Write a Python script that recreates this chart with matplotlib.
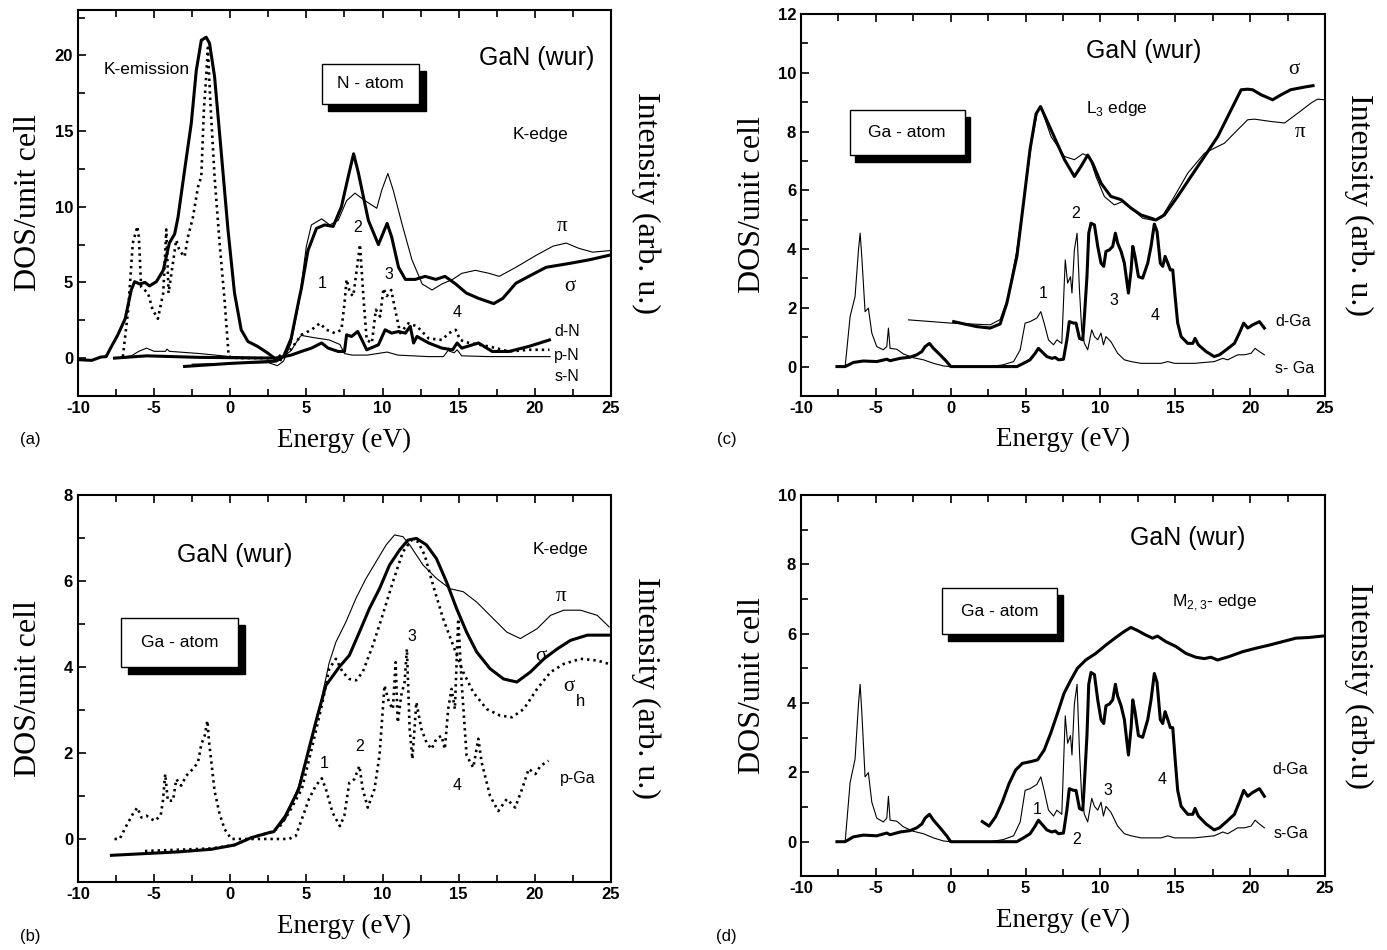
import numpy as np
import matplotlib
matplotlib.use("Agg")
import matplotlib.pyplot as plt
from matplotlib.patches import Rectangle
from matplotlib.ticker import MultipleLocator

plt.rcParams['font.family'] = ['Liberation Sans', 'DejaVu Sans']
plt.rcParams['mathtext.fontset'] = 'custom'
plt.rcParams['mathtext.rm'] = 'Liberation Sans'
plt.rcParams['axes.unicode_minus'] = False

# ---------------- panel (a): N atom, K-emission / K-edge ----------------
a_kemis = [(-10, -0.1), (-9.1, -0.15), (-8.5, 0.07), (-8.15, 0.1), (-7.8, 0.77), (-7.4, 1.5),
           (-6.9, 2.6), (-6.5, 4.5), (-6.28, 5.05), (-5.95, 4.9), (-5.6, 5.0), (-5.3, 4.77),
           (-4.85, 5.05), (-4.4, 5.8), (-4.0, 7.6), (-3.65, 8.2), (-3.43, 9.3), (-3.0, 12.4),
           (-2.56, 15.5), (-2.23, 19.0), (-1.9, 21.0), (-1.58, 21.2), (-1.36, 20.8), (-1.03, 18.6),
           (-0.6, 13.7), (-0.15, 8.5), (0.28, 4.3), (0.72, 1.87), (1.16, 1.1), (1.8, 0.77),
           (2.47, 0.33), (2.9, 0.0), (3.3, -0.1)]
a_pN = [(-7.05, 0.1), (-6.7, 3.2), (-6.4, 7.6), (-6.1, 8.7), (-6.0, 8.0), (-5.85, 4.7), (-5.4, 4.3),
        (-5.1, 3.2), (-4.75, 2.6), (-4.4, 4.3), (-4.2, 8.5), (-4.05, 4.3), (-3.76, 6.3), (-3.55, 7.8),
        (-3.33, 7.1), (-3.0, 6.7), (-2.78, 8.0), (-2.45, 9.3), (-2.12, 11.3), (-1.9, 12.0),
        (-1.73, 16.4), (-1.58, 18.6), (-1.47, 20.5), (-1.3, 16.8), (-1.03, 12.0), (-0.7, 7.6),
        (-0.37, 3.8), (-0.1, 0.1), (0.5, 0.0), (3.0, 0.0), (4.0, 0.6), (4.67, 1.54), (5.33, 1.87),
        (5.88, 2.3), (6.32, 1.87), (6.87, 1.65), (7.3, 1.87), (7.5, 3.6), (7.64, 5.2), (7.86, 4.3),
        (8.08, 4.1), (8.3, 5.8), (8.52, 7.5), (8.74, 4.1), (8.96, 1.2), (9.3, 1.0), (9.56, 3.2),
        (9.84, 2.75), (10.06, 4.6), (10.28, 4.1), (10.57, 4.5), (10.83, 3.2), (11.16, 1.65),
        (11.7, 2.3), (12.26, 2.1), (13.03, 1.3), (13.9, 1.2), (14.35, 1.65), (14.8, 1.87),
        (15.1, 1.2), (15.68, 1.0), (17.0, 0.77), (18.3, 0.44), (19.6, 0.55), (20.96, 0.55)]
a_dN = [(-7.6, 0), (-5.5, 0.15), (-2, 0.05), (3, 0), (4, 0.2), (4.67, 0.44), (5.33, 0.66), (6.0, 1.0),
        (6.43, 0.66), (7.09, 0.44), (7.5, 0.44), (7.64, 1.54), (7.97, 1.43), (8.37, 1.76), (8.6, 1.3),
        (8.96, 0.55), (9.73, 0.88), (10.17, 1.87), (10.6, 1.65), (11.05, 1.76), (11.5, 1.65),
        (11.82, 2.1), (12.04, 1.0), (12.26, 1.43), (13.03, 1.0), (13.9, 0.66), (14.6, 0.55),
        (14.9, 1.0), (15.2, 0.66), (16.3, 1.0), (17.2, 0.44), (18.3, 0.44), (19.6, 0.77), (20.96, 1.2)]
a_sN = [(-7.6, 0), (-6.5, 0.15), (-6, 0.45), (-5.5, 0.66), (-5, 0.45), (-4.25, 0.45), (-4.15, 0.6),
        (-4.0, 0.45), (-2, 0.3), (0, 0.1), (2.5, 0), (3.5, 0.1), (4.0, 0.5), (4.5, 1.3), (4.67, 1.5),
        (5.5, 1.35), (6.5, 1.2), (7.2, 0.9), (7.5, 0.3), (8.0, 0.2), (9.0, 0.2), (10.3, 0.4),
        (11, 0.2), (13, 0.1), (14.0, 0.1), (14.3, 0.5), (14.7, 0.35), (14.9, 0.55), (15.2, 0.15),
        (17, 0.1), (21, 0.1)]
a_sigma = [(-3.0, -0.55), (0, -0.35), (3.0, -0.2), (3.5, 0.1), (4.0, 1.3), (4.5, 3.8), (4.67, 4.6),
           (5.1, 7.1), (5.66, 8.57), (6.2, 8.8), (6.76, 8.7), (7.3, 10.0), (7.75, 12.0), (8.1, 13.5),
           (8.4, 12.3), (9.07, 9.1), (9.73, 7.5), (10.3, 8.9), (10.6, 8.0), (11.05, 6.0), (11.5, 5.2),
           (12.15, 5.2), (12.8, 5.4), (13.5, 5.2), (14.1, 5.4), (14.8, 4.9), (15.5, 4.3), (16.3, 3.95),
           (17.3, 3.6), (17.9, 3.95), (18.76, 4.95), (19.6, 5.4), (20.74, 6.0), (22.3, 6.26),
           (23.6, 6.5), (24.9, 6.8)]
a_pi = [(-2.5, -0.4), (2.5, -0.3), (3.1, -0.5), (3.5, -0.2), (4.0, 1.0), (4.5, 3.6), (5.0, 7.4),
        (5.33, 8.8), (6.0, 9.2), (6.54, 8.8), (7.09, 9.1), (7.64, 10.4), (8.19, 10.9), (8.85, 10.4),
        (9.62, 9.9), (9.95, 11.1), (10.35, 12.2), (10.7, 11.1), (11.27, 8.9), (11.93, 6.5),
        (12.6, 4.9), (13.25, 4.5), (13.9, 4.9), (14.6, 5.2), (15.2, 5.6), (16.1, 5.8), (17.0, 5.6),
        (17.66, 5.4), (18.76, 6.0), (20.1, 6.8), (21.2, 7.4), (22.06, 7.6), (22.9, 7.25),
        (23.8, 7.0), (24.9, 7.1)]

# ---------------- panel (b): Ga atom, K-edge ----------------
b_sigma = [(-7.8, -0.38), (-5.6, -0.34), (-3.4, -0.3), (-1.25, -0.24), (0.28, -0.14), (1.38, 0.03),
           (2.58, 0.15), (2.86, 0.17), (3.63, 0.54), (4.5, 1.16), (5.17, 2.1), (5.73, 2.87),
           (6.28, 3.57), (7.16, 4.0), (7.82, 4.27), (8.48, 4.81), (9.14, 5.36), (9.8, 5.82),
           (10.46, 6.37), (11.12, 6.72), (11.67, 6.95), (12.22, 6.99), (12.88, 6.84), (13.54, 6.52),
           (14.2, 5.98), (14.86, 5.36), (15.52, 4.81), (16.18, 4.35), (17.06, 3.96), (17.95, 3.72),
           (18.82, 3.65), (19.7, 3.88), (20.6, 4.19), (21.47, 4.42), (22.35, 4.62), (23.45, 4.74),
           (25.0, 4.74)]
b_pi = [(-7.8, -0.38), (-5.6, -0.34), (-3.4, -0.3), (-1.25, -0.24), (0.28, -0.14), (1.38, 0.03),
        (2.58, 0.15), (2.86, 0.17), (3.63, 0.46), (4.5, 1.24), (5.17, 2.1), (5.84, 3.02), (6.5, 4.1),
        (6.94, 4.58), (7.6, 5.05), (8.26, 5.6), (8.92, 6.06), (9.58, 6.45), (10.24, 6.84),
        (10.79, 7.07), (11.34, 7.03), (11.78, 6.84), (12.66, 6.37), (13.54, 6.06), (14.42, 5.82),
        (15.3, 5.75), (16.18, 5.51), (17.28, 5.12), (18.16, 4.81), (19.05, 4.66), (20.15, 4.89),
        (21.03, 5.2), (21.9, 5.32), (23.0, 5.32), (24.1, 5.2), (24.88, 4.93)]
b_sigma_h = [(-5.6, -0.28), (-1.25, -0.22), (0.28, -0.14), (1.4, 0.03), (2.6, 0.15), (3.2, 0.26),
             (3.85, 0.61), (4.7, 1.16), (5.4, 2.17), (6.06, 3.18), (6.5, 3.96), (6.94, 4.19),
             (7.38, 3.88), (7.82, 3.72), (8.26, 3.69), (8.7, 3.88), (9.36, 4.5), (10.0, 5.2),
             (10.68, 5.98), (11.34, 6.68), (11.89, 6.95), (12.33, 6.91), (12.77, 6.6), (13.32, 5.9),
             (13.98, 5.12), (14.64, 4.5), (15.3, 3.88), (15.96, 3.41), (16.84, 3.02), (17.72, 2.87),
             (18.5, 2.83), (19.27, 3.02), (20.15, 3.49), (21.03, 3.88), (21.9, 4.07), (23.0, 4.19),
             (24.1, 4.15), (24.88, 4.07)]
b_pGa = [(-7.6, 0.0), (-7.26, 0.0), (-6.83, 0.3), (-6.4, 0.58), (-6.1, 0.73), (-5.84, 0.5),
         (-5.5, 0.54), (-4.97, 0.42), (-4.57, 0.54), (-4.42, 0.89), (-4.27, 1.51), (-4.1, 0.89),
         (-3.76, 0.89), (-3.54, 1.39), (-3.22, 1.24), (-2.89, 1.47), (-2.45, 1.63), (-2.12, 1.78),
         (-1.9, 2.2), (-1.68, 2.4), (-1.5, 2.75), (-1.4, 2.29), (-1.25, 1.82), (-1.03, 1.12),
         (-0.7, 0.58), (-0.37, 0.23), (0.07, 0.0), (0.94, 0.0), (2.25, 0.0), (3.85, 0.0), (4.3, 0.07),
         (4.62, 0.38), (5.17, 0.93), (5.62, 1.24), (6.01, 1.41), (6.28, 1.16), (6.72, 0.61),
         (7.2, 0.3), (7.49, 0.54), (7.82, 1.31), (8.15, 1.39), (8.48, 1.7), (8.7, 1.16), (9.03, 0.73),
         (9.47, 1.16), (9.8, 1.94), (10.13, 3.57), (10.42, 3.18), (10.68, 3.02), (10.86, 4.11),
         (11.0, 2.71), (11.23, 3.34), (11.45, 3.65), (11.6, 4.42), (11.78, 2.56), (11.96, 1.86),
         (12.22, 3.18), (12.55, 2.56), (12.88, 2.25), (13.21, 2.09), (13.54, 2.33), (13.87, 2.4),
         (14.09, 2.09), (14.31, 3.02), (14.53, 3.49), (14.75, 3.02), (14.97, 5.12), (15.19, 3.65),
         (15.52, 1.94), (15.96, 1.66), (16.29, 2.33), (16.51, 1.78), (17.06, 1.0), (17.6, 0.65),
         (18.16, 0.93), (18.71, 0.73), (19.16, 1.16), (19.6, 1.63), (20.04, 1.51), (20.37, 1.7),
         (20.9, 1.82)]

# ---------------- panels (c), (d): Ga atom DOS (shared) ----------------
ga_s = [(-7.6, 0), (-7.05, 0), (-6.72, 1.7), (-6.39, 2.38), (-6.16, 3.97), (-6.05, 4.54),
        (-5.94, 3.75), (-5.72, 1.87), (-5.5, 1.99), (-5.27, 1.14), (-4.94, 0.68), (-4.5, 0.57),
        (-4.27, 0.68), (-4.16, 1.31), (-4.05, 0.62), (-3.6, 0.59), (-3.16, 0.43), (-2.49, 0.3),
        (-1.82, 0.23), (-1.15, 0.11), (-0.48, 0.02), (0, 0), (2.63, 0), (3.5, 0.06), (4.2, 0.17),
        (4.64, 0.57), (4.97, 1.48), (5.3, 1.53), (5.75, 1.65), (6.02, 1.87), (6.24, 1.48),
        (6.53, 0.91), (6.87, 0.74), (7.09, 0.91), (7.42, 0.79), (7.65, 3.63), (7.81, 2.84),
        (8.0, 3.06), (8.1, 2.5), (8.26, 3.97), (8.44, 4.54), (8.6, 2.61), (8.75, 1.25), (8.93, 0.79),
        (9.15, 0.57), (9.42, 1.25), (9.6, 1.02), (9.82, 0.91), (10.04, 1.14), (10.2, 0.74),
        (10.37, 1.02), (10.7, 0.85), (11.15, 0.45), (11.6, 0.23), (12.05, 0.17), (12.71, 0.11),
        (14.05, 0.11), (14.5, 0.17), (14.94, 0.11), (16.28, 0.11), (17.6, 0.17), (18.17, 0.28),
        (18.5, 0.23), (19.17, 0.4), (19.62, 0.4), (20.06, 0.45), (20.33, 0.62), (20.62, 0.51),
        (20.95, 0.4)]
ga_d = [(-7.6, 0), (-7.05, 0), (-6.5, 0.14), (-5.83, 0.19), (-4.94, 0.17), (-4.27, 0.25),
        (-4.05, 0.2), (-3.38, 0.28), (-2.71, 0.32), (-2.27, 0.4), (-1.93, 0.51), (-1.71, 0.68),
        (-1.42, 0.79), (-1.15, 0.62), (-0.71, 0.4), (-0.27, 0.17), (0, 0), (4.42, 0), (4.86, 0.11),
        (5.3, 0.23), (5.64, 0.45), (5.86, 0.62), (6.08, 0.51), (6.42, 0.34), (6.75, 0.28),
        (6.98, 0.31), (7.2, 0.23), (7.53, 0.25), (7.76, 0.91), (7.92, 1.53), (8.21, 1.48),
        (8.37, 1.48), (8.6, 0.96), (8.82, 0.91), (8.93, 1.7), (9.1, 3.06), (9.22, 4.54), (9.37, 4.88),
        (9.6, 4.82), (9.82, 4.09), (10.04, 3.52), (10.22, 3.41), (10.37, 3.92), (10.6, 3.97),
        (10.82, 4.09), (11.0, 4.54), (11.15, 4.2), (11.38, 3.92), (11.6, 3.52), (11.87, 2.5),
        (12.05, 3.29), (12.16, 4.09), (12.31, 3.75), (12.54, 3.06), (12.82, 3.01), (13.16, 3.52),
        (13.38, 4.09), (13.6, 4.85), (13.78, 4.6), (14.0, 3.52), (14.16, 3.41), (14.32, 3.75),
        (14.5, 3.52), (14.67, 3.29), (14.83, 3.29), (14.99, 2.38), (15.16, 1.48), (15.39, 1.02),
        (15.83, 0.79), (16.17, 0.79), (16.32, 0.96), (16.54, 0.74), (17.06, 0.51), (17.6, 0.34),
        (17.95, 0.4), (18.4, 0.57), (18.95, 0.79), (19.28, 1.14), (19.57, 1.48), (19.84, 1.31),
        (20.17, 1.42), (20.62, 1.53), (20.95, 1.31)]
c_sigma = [(0.2, 1.53), (0.63, 1.48), (1.74, 1.36), (2.63, 1.31), (3.3, 1.45), (3.75, 2.16),
           (4.42, 3.75), (4.86, 5.56), (5.3, 7.4), (5.7, 8.6), (6.0, 8.85), (6.7, 8.06), (7.6, 7.04),
           (8.26, 6.47), (8.7, 6.81), (9.15, 7.2), (9.48, 6.92), (10.04, 6.24), (10.7, 5.79),
           (11.38, 5.68), (12.05, 5.39), (12.71, 5.16), (13.38, 5.05), (13.7, 4.99), (14.27, 5.16),
           (15.16, 5.79), (16.05, 6.47), (16.95, 7.15), (17.84, 7.83), (18.73, 8.74), (19.4, 9.42),
           (19.84, 9.44), (20.17, 9.42), (20.73, 9.25), (21.5, 9.08), (22.07, 9.25), (22.7, 9.42),
           (23.6, 9.51), (24.2, 9.56)]
c_pi = [(-2.82, 1.59), (0, 1.48), (2.63, 1.42), (3.3, 1.6), (3.8, 2.3), (4.4, 3.9), (4.9, 5.7),
        (5.4, 7.6), (5.8, 8.7), (6.0, 8.85), (6.7, 7.83), (7.6, 7.15), (8.26, 7.04), (8.82, 7.24),
        (9.26, 7.15), (9.7, 6.47), (10.26, 5.79), (10.93, 5.5), (11.49, 5.62), (12.05, 5.39),
        (12.82, 5.05), (13.6, 4.97), (14.05, 5.05), (14.94, 5.79), (15.83, 6.58), (16.95, 7.26),
        (17.6, 7.43), (18.28, 7.6), (19.17, 8.06), (19.84, 8.4), (20.3, 8.42), (21.4, 8.34),
        (22.3, 8.29), (23.2, 8.63), (24.07, 8.97), (24.5, 9.1), (24.96, 9.08)]
d_m23 = [(2.11, 0.58), (2.56, 0.45), (3.0, 0.72), (3.45, 1.15), (3.9, 1.68), (4.34, 2.07),
         (4.79, 2.26), (5.35, 2.31), (5.8, 2.36), (6.24, 2.64), (6.68, 3.13), (7.13, 3.7),
         (7.57, 4.28), (8.02, 4.66), (8.46, 5.0), (9.02, 5.24), (9.69, 5.43), (10.36, 5.67),
         (11.03, 5.89), (11.58, 6.06), (12.03, 6.18), (12.48, 6.09), (13.03, 5.96), (13.48, 5.87),
         (13.81, 5.93), (14.37, 5.77), (15.04, 5.63), (15.71, 5.43), (16.37, 5.32), (16.93, 5.28),
         (17.38, 5.32), (17.82, 5.24), (18.6, 5.34), (19.5, 5.48), (20.39, 5.58), (21.28, 5.67),
         (22.17, 5.77), (23.06, 5.87), (23.95, 5.89), (24.84, 5.93)]

THICK = 2.2
THIN = 0.8
DOT = dict(color='black', lw=1.9, linestyle=(0, (0.9, 1.5)))


def curve(ax, pts, **kw):
    xy = np.array(pts, dtype=float)
    ax.plot(xy[:, 0], xy[:, 1], **kw)


def atom_box(ax, x0, x1, y0, y1, dx, dy, label):
    ax.add_patch(Rectangle((x0 + dx, y0 - dy), x1 - x0, y1 - y0, facecolor='black',
                           edgecolor='black', zorder=5))
    ax.add_patch(Rectangle((x0, y0), x1 - x0, y1 - y0, facecolor='white',
                           edgecolor='black', lw=1.0, zorder=6))
    ax.text((x0 + x1) / 2, (y0 + y1) / 2, label, ha='center', va='center',
            fontsize=12.5, zorder=7)


def frame(ax, ylim, ymaj, ymin, right_label):
    ax.set_xlim(-10, 25)
    ax.set_ylim(*ylim)
    ax.xaxis.set_major_locator(MultipleLocator(5))
    ax.xaxis.set_minor_locator(MultipleLocator(2.5))
    ax.yaxis.set_major_locator(MultipleLocator(ymaj))
    ax.yaxis.set_minor_locator(MultipleLocator(ymin))
    ax.tick_params(which='both', direction='in', top=True, right=False,
                   labelsize=12, width=1.2)
    ax.tick_params(which='major', length=6)
    ax.tick_params(which='minor', length=5)
    for lab in ax.get_xticklabels() + ax.get_yticklabels():
        lab.set_fontweight('bold')
    for s in ax.spines.values():
        s.set_linewidth(1.5)
    ax.text(0.5, -0.115, 'Energy (eV)', transform=ax.transAxes, ha='center', va='center',
            fontsize=19.5, family='Liberation Serif')
    ax.text(-0.092, 0.5, 'DOS/unit cell', transform=ax.transAxes, ha='center', va='center',
            rotation=90, fontsize=23, family='Liberation Serif')
    ax.text(1.065, 0.5, right_label, transform=ax.transAxes, ha='center', va='center',
            rotation=270, fontsize=23, family='Liberation Serif')


fig = plt.figure(figsize=(13.87, 9.5), dpi=100)
ax_a = fig.add_axes([0.0562, 0.5832, 0.3843, 0.4063])
ax_b = fig.add_axes([0.0562, 0.0716, 0.3843, 0.4074])
ax_c = fig.add_axes([0.5775, 0.5832, 0.3778, 0.4021])
ax_d = fig.add_axes([0.5775, 0.0775, 0.3778, 0.4015])

# (a)
ax = ax_a
curve(ax, a_sN, color='black', lw=THIN)
curve(ax, a_dN, color='black', lw=THICK)
curve(ax, a_pN, **DOT)
curve(ax, a_kemis, color='black', lw=THICK)
curve(ax, a_pi, color='black', lw=THIN)
curve(ax, a_sigma, color='black', lw=THICK)
frame(ax, (-2.5, 23), 5, 2.5, 'Intensity (arb. u.)')
atom_box(ax, 6.0, 12.4, 16.8, 19.45, 0.45, 0.45, 'N - atom')
ax.text(-5.5, 19.1, 'K-emission', ha='center', va='center', fontsize=12.5)
ax.text(20.1, 19.8, 'GaN (wur)', ha='center', va='center', fontsize=18)
ax.text(20.4, 14.8, 'K-edge', ha='center', va='center', fontsize=12.5)
ax.text(21.8, 8.7, 'π', ha='center', va='center', fontsize=15, family='Liberation Serif')
ax.text(22.3, 4.7, 'σ', ha='center', va='center', fontsize=15, family='Liberation Serif')
for t, x, y in [('1', 6.06, 4.95), ('2', 8.35, 8.6), ('3', 10.4, 5.5), ('4', 14.9, 3.0)]:
    ax.text(x, y, t, ha='center', va='center', fontsize=11.5)
for t, y in [('d-N', 1.75), ('p-N', 0.2), ('s-N', -1.2)]:
    ax.text(22.1, y, t, ha='center', va='center', fontsize=11.5)

# (b)
ax = ax_b
curve(ax, b_pGa, **DOT)
curve(ax, b_sigma_h, **DOT)
curve(ax, b_pi, color='black', lw=THIN)
curve(ax, b_sigma, color='black', lw=THICK)
frame(ax, (-1, 8), 2, 1, 'Intensity (arb. u.)')
atom_box(ax, -7.18, 0.52, 4.0, 5.13, 0.45, 0.16, 'Ga - atom')
ax.text(0.26, 6.6, 'GaN (wur)', ha='center', va='center', fontsize=18)
ax.text(21.7, 6.72, 'K-edge', ha='center', va='center', fontsize=12.5)
ax.text(21.7, 5.63, 'π', ha='center', va='center', fontsize=15, family='Liberation Serif')
ax.text(20.4, 4.25, 'σ', ha='center', va='center', fontsize=15, family='Liberation Serif')
ax.text(22.25, 3.55, 'σ', ha='center', va='center', fontsize=15, family='Liberation Serif')
ax.text(23.0, 3.2, 'h', ha='center', va='center', fontsize=12)
ax.text(22.8, 1.4, 'p-Ga', ha='center', va='center', fontsize=11.5)
for t, x, y in [('1', 6.2, 1.76), ('2', 8.5, 2.14), ('3', 11.9, 4.7), ('4', 14.9, 1.24)]:
    ax.text(x, y, t, ha='center', va='center', fontsize=11.5)

# (c)
ax = ax_c
curve(ax, ga_s, color='black', lw=THIN)
curve(ax, ga_d, color='black', lw=THICK)
curve(ax, c_pi, color='black', lw=THIN)
curve(ax, c_sigma, color='black', lw=THICK)
frame(ax, (-1, 12), 2, 1, 'Intensity (arb. u.)')
atom_box(ax, -6.76, 0.95, 7.19, 8.72, 0.35, 0.24, 'Ga - atom')
ax.text(12.9, 10.75, 'GaN (wur)', ha='center', va='center', fontsize=18)
ax.text(11.1, 8.77, r'L$_\mathregular{3}$ edge', ha='center', va='center', fontsize=12.5)
ax.text(22.9, 10.1, 'σ', ha='center', va='center', fontsize=15, family='Liberation Serif')
ax.text(23.3, 7.98, 'π', ha='center', va='center', fontsize=15, family='Liberation Serif')
for t, x, y in [('1', 6.18, 2.49), ('2', 8.36, 5.2), ('3', 10.87, 2.26), ('4', 13.65, 1.75)]:
    ax.text(x, y, t, ha='center', va='center', fontsize=11.5)
ax.text(22.9, 1.53, 'd-Ga', ha='center', va='center', fontsize=11.5)
ax.text(23.0, -0.06, 's- Ga', ha='center', va='center', fontsize=11.5)

# (d)
ax = ax_d
curve(ax, ga_s, color='black', lw=THIN)
curve(ax, ga_d, color='black', lw=THICK)
curve(ax, d_m23, color='black', lw=THICK)
frame(ax, (-1, 10), 2, 1, 'Intensity (arb.u)')
atom_box(ax, -0.59, 7.1, 5.99, 7.31, 0.4, 0.2, 'Ga - atom')
ax.text(15.8, 8.75, 'GaN (wur)', ha='center', va='center', fontsize=18)
ax.text(17.6, 6.88, r'M$_\mathregular{2,3}$- edge', ha='center', va='center', fontsize=12.5)
ax.text(22.7, 2.07, 'd-Ga', ha='center', va='center', fontsize=11.5)
ax.text(22.7, 0.24, 's-Ga', ha='center', va='center', fontsize=11.5)
for t, x, y in [('1', 5.75, 0.93), ('2', 8.44, 0.05), ('3', 10.5, 1.49), ('4', 14.1, 1.78)]:
    ax.text(x, y, t, ha='center', va='center', fontsize=11.5)

for lab, x, y in [('(a)', 0.0216, 0.537), ('(b)', 0.0216, 0.0137),
                  ('(c)', 0.524, 0.537), ('(d)', 0.524, 0.0137)]:
    fig.text(x, y, lab, ha='center', va='center', fontsize=12)

fig.savefig('out.png', dpi=100)
